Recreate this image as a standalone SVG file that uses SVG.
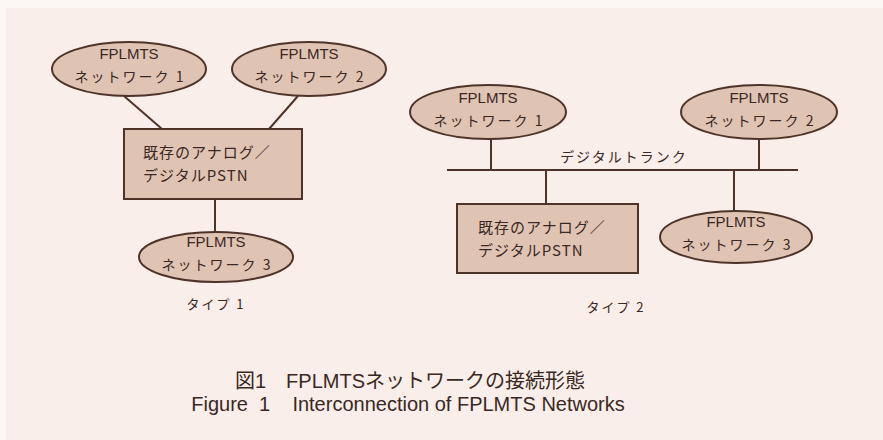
<svg xmlns="http://www.w3.org/2000/svg" width="883" height="440" viewBox="0 0 883 440">
<style>
.bg{fill:#f9eee9}
.shape{fill:#e0c4b3;stroke:#4e3329;stroke-width:2}
.ln{stroke:#4e3329;stroke-width:2;fill:none}
.en{font-family:"Liberation Sans","Noto Sans CJK JP",sans-serif;font-size:15px;fill:#3a2824;text-anchor:middle}
.jp{font-family:"Noto Sans CJK JP","Liberation Sans",sans-serif;font-size:14px;fill:#3a2824;text-anchor:middle;letter-spacing:2px}
.bx{font-family:"Noto Sans CJK JP","Liberation Sans",sans-serif;font-size:15px;fill:#3a2824;letter-spacing:1px}
.cap{font-family:"Liberation Sans","Noto Sans CJK JP",sans-serif;font-size:20px;fill:#3a2824;text-anchor:middle}
</style>
<rect width="883" height="440" fill="#fdf7f4"/>
<rect x="6" y="8" width="877" height="432" class="bg"/>
<g id="connectors">
<line class="ln" x1="124" y1="96" x2="162" y2="129"/>
<line class="ln" x1="298" y1="96" x2="269" y2="129"/>
<line class="ln" x1="215" y1="199" x2="215" y2="233"/>
<line class="ln" x1="447" y1="170" x2="798" y2="170"/>
<line class="ln" x1="491" y1="139" x2="491" y2="170"/>
<line class="ln" x1="759" y1="139" x2="759" y2="170"/>
<line class="ln" x1="546" y1="170" x2="546" y2="204"/>
<line class="ln" x1="734" y1="170" x2="734" y2="211"/>
</g>
<g id="t1-net1">
<ellipse class="shape" cx="129" cy="69" rx="77" ry="27"/>
<text class="en" x="129" y="59">FPLMTS</text>
<text class="jp" x="130" y="82">ネットワーク 1</text>
</g>
<g id="t1-net2">
<ellipse class="shape" cx="309" cy="69" rx="77" ry="27"/>
<text class="en" x="309" y="59">FPLMTS</text>
<text class="jp" x="310" y="82">ネットワーク 2</text>
</g>
<g id="t1-pstn">
<rect class="shape" x="124" y="129" width="178" height="70"/>
<text class="bx" x="143" y="158">既存のアナログ／</text>
<text class="bx" x="143" y="181">デジタルPSTN</text>
</g>
<g id="t1-net3">
<ellipse class="shape" cx="216" cy="257" rx="77" ry="25"/>
<text class="en" x="216" y="247">FPLMTS</text>
<text class="jp" x="217" y="270">ネットワーク 3</text>
</g>
<text class="jp" x="216" y="309" style="font-size:13px">タイプ 1</text>
<g id="t2-net1">
<ellipse class="shape" cx="488" cy="112" rx="78" ry="27"/>
<text class="en" x="488" y="103">FPLMTS</text>
<text class="jp" x="489" y="126">ネットワーク 1</text>
</g>
<g id="t2-net2">
<ellipse class="shape" cx="759" cy="112" rx="78" ry="27"/>
<text class="en" x="759" y="103">FPLMTS</text>
<text class="jp" x="760" y="126">ネットワーク 2</text>
</g>
<text class="jp" x="624" y="162">デジタルトランク</text>
<g id="t2-pstn">
<rect class="shape" x="457" y="204" width="181" height="69"/>
<text class="bx" x="478" y="233">既存のアナログ／</text>
<text class="bx" x="478" y="256">デジタルPSTN</text>
</g>
<g id="t2-net3">
<ellipse class="shape" cx="736" cy="237" rx="76" ry="26"/>
<text class="en" x="736" y="227">FPLMTS</text>
<text class="jp" x="737" y="250">ネットワーク 3</text>
</g>
<text class="jp" x="616" y="312" style="font-size:13px">タイプ 2</text>
<text class="cap" x="410" y="388">図1　FPLMTSネットワークの接続形態</text>
<text class="cap" x="408" y="411" xml:space="preserve">Figure  1    Interconnection of FPLMTS Networks</text>
</svg>
